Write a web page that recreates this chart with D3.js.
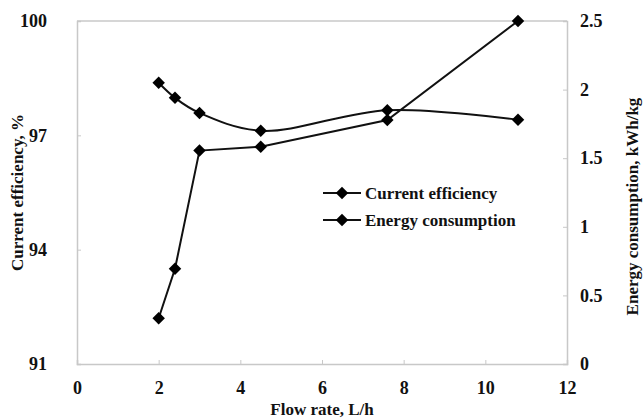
<!DOCTYPE html>
<html>
<head>
<meta charset="utf-8">
<script src="https://cdn.jsdelivr.net/npm/d3@7"></script>
<style>
  body { margin: 0; background: #fff; }
  text { font-family: "Liberation Serif", "Times New Roman", serif; font-weight: bold; fill: #111; }
</style>
</head>
<body>
<div id="chart"></div>
<script>
// Data
let flowRate = [2, 2.4, 3, 4.5, 7.6, 10.8];
let currentEfficiency = [92.2, 93.5, 96.6, 96.7, 97.4, 100];
let energyConsumption = [2.05, 1.94, 1.83, 1.70, 1.85, 1.78];
let xTicks = [0, 2, 4, 6, 8, 10, 12];
let leftTicks = [91, 94, 97, 100];
let rightTicks = [0, 0.5, 1, 1.5, 2, 2.5];
let seriesNames = ["Current efficiency", "Energy consumption"];

let svgWidth = 643;
let svgHeight = 419;
let margin = { top: 21, right: 76, bottom: 55, left: 77 };
let width = svgWidth - margin.left - margin.right;
let height = svgHeight - margin.top - margin.bottom;

let svg = d3.select("#chart")
  .append("svg")
  .attr("width", svgWidth)
  .attr("height", svgHeight);

let chartGroup = svg.append("g")
  .attr("transform", `translate(${margin.left}, ${margin.top})`);

let xScale = d3.scaleLinear().domain([0, 12]).range([0, width]);
let yLeft = d3.scaleLinear().domain([91, 100]).range([height, 0]);
let yRight = d3.scaleLinear().domain([0, 2.5]).range([height, 0]);

// axes (inward ticks, gray lines)
let bottomAxis = d3.axisBottom(xScale).tickValues(xTicks).tickSize(-4).tickPadding(17).tickFormat(d3.format("d"));
let leftAxis = d3.axisLeft(yLeft).tickValues(leftTicks).tickSize(-4).tickPadding(30);
let rightAxis = d3.axisRight(yRight).tickValues(rightTicks).tickSize(-4).tickPadding(13).tickFormat(d => d);

let xAxisG = chartGroup.append("g")
  .attr("transform", `translate(0, ${height})`)
  .call(bottomAxis);
let leftAxisG = chartGroup.append("g").call(leftAxis);
let rightAxisG = chartGroup.append("g")
  .attr("transform", `translate(${width}, 0)`)
  .call(rightAxis);

[xAxisG, leftAxisG, rightAxisG].forEach(g => {
  g.select(".domain").attr("stroke", "#c8c8c8").attr("stroke-width", 1.5);
  g.selectAll(".tick line").attr("stroke", "#c8c8c8");
  g.selectAll(".tick text")
    .style("font-family", "Liberation Serif, serif")
    .style("font-weight", "bold")
    .style("font-size", "18px")
    .attr("fill", "#111");
});

// top border line
chartGroup.append("line")
  .attr("x1", 0).attr("x2", width)
  .attr("y1", 0).attr("y2", 0)
  .attr("stroke", "#c8c8c8").attr("stroke-width", 1.5);

let diamond = d3.symbol().type(d3.symbolSquare).size(78);

// current efficiency: straight segments on left axis
let ceData = flowRate.map((x, i) => ({ x: x, y: currentEfficiency[i] }));
chartGroup.append("path")
  .datum(ceData)
  .attr("fill", "none")
  .attr("stroke", "#111")
  .attr("stroke-width", 2)
  .attr("d", d3.line().x(d => xScale(d.x)).y(d => yLeft(d.y)));

// energy consumption: smoothed line on right axis
let ecData = flowRate.map((x, i) => ({ x: x, y: energyConsumption[i] }));
chartGroup.append("path")
  .datum(ecData)
  .attr("fill", "none")
  .attr("stroke", "#111")
  .attr("stroke-width", 2)
  .attr("d", d3.line().curve(d3.curveCatmullRom.alpha(0.5)).x(d => xScale(d.x)).y(d => yRight(d.y)));

chartGroup.selectAll(".ce-mark")
  .data(ceData)
  .enter()
  .append("path")
  .attr("d", diamond)
  .attr("transform", d => `translate(${xScale(d.x)}, ${yLeft(d.y)}) rotate(45)`)
  .attr("fill", "#000");

chartGroup.selectAll(".ec-mark")
  .data(ecData)
  .enter()
  .append("path")
  .attr("d", diamond)
  .attr("transform", d => `translate(${xScale(d.x)}, ${yRight(d.y)}) rotate(45)`)
  .attr("fill", "#000");

// axis titles
svg.append("text")
  .attr("x", margin.left + width / 2)
  .attr("y", 415)
  .attr("text-anchor", "middle")
  .style("font-size", "17px")
  .text("Flow rate, L/h");

svg.append("text")
  .attr("transform", `translate(23, ${margin.top + height / 2}) rotate(-90)`)
  .attr("text-anchor", "middle")
  .style("font-size", "17px")
  .text("Current efficiency, %");

svg.append("text")
  .attr("transform", `translate(638, ${margin.top + height / 2 + 14}) rotate(-90)`)
  .attr("text-anchor", "middle")
  .style("font-size", "17px")
  .text("Energy consumption, kWh/kg");

// legend
let legend = svg.append("g").attr("transform", "translate(323, 193)");
seriesNames.forEach((name, i) => {
  let row = legend.append("g").attr("transform", `translate(0, ${i * 27})`);
  row.append("line")
    .attr("x1", 0).attr("x2", 38).attr("y1", 0).attr("y2", 0)
    .attr("stroke", "#111").attr("stroke-width", 2);
  row.append("path")
    .attr("d", diamond)
    .attr("transform", "translate(19, 0) rotate(45)")
    .attr("fill", "#000");
  row.append("text")
    .attr("x", 42)
    .attr("y", 6)
    .style("font-size", "17px")
    .text(name);
});
</script>
</body>
</html>
